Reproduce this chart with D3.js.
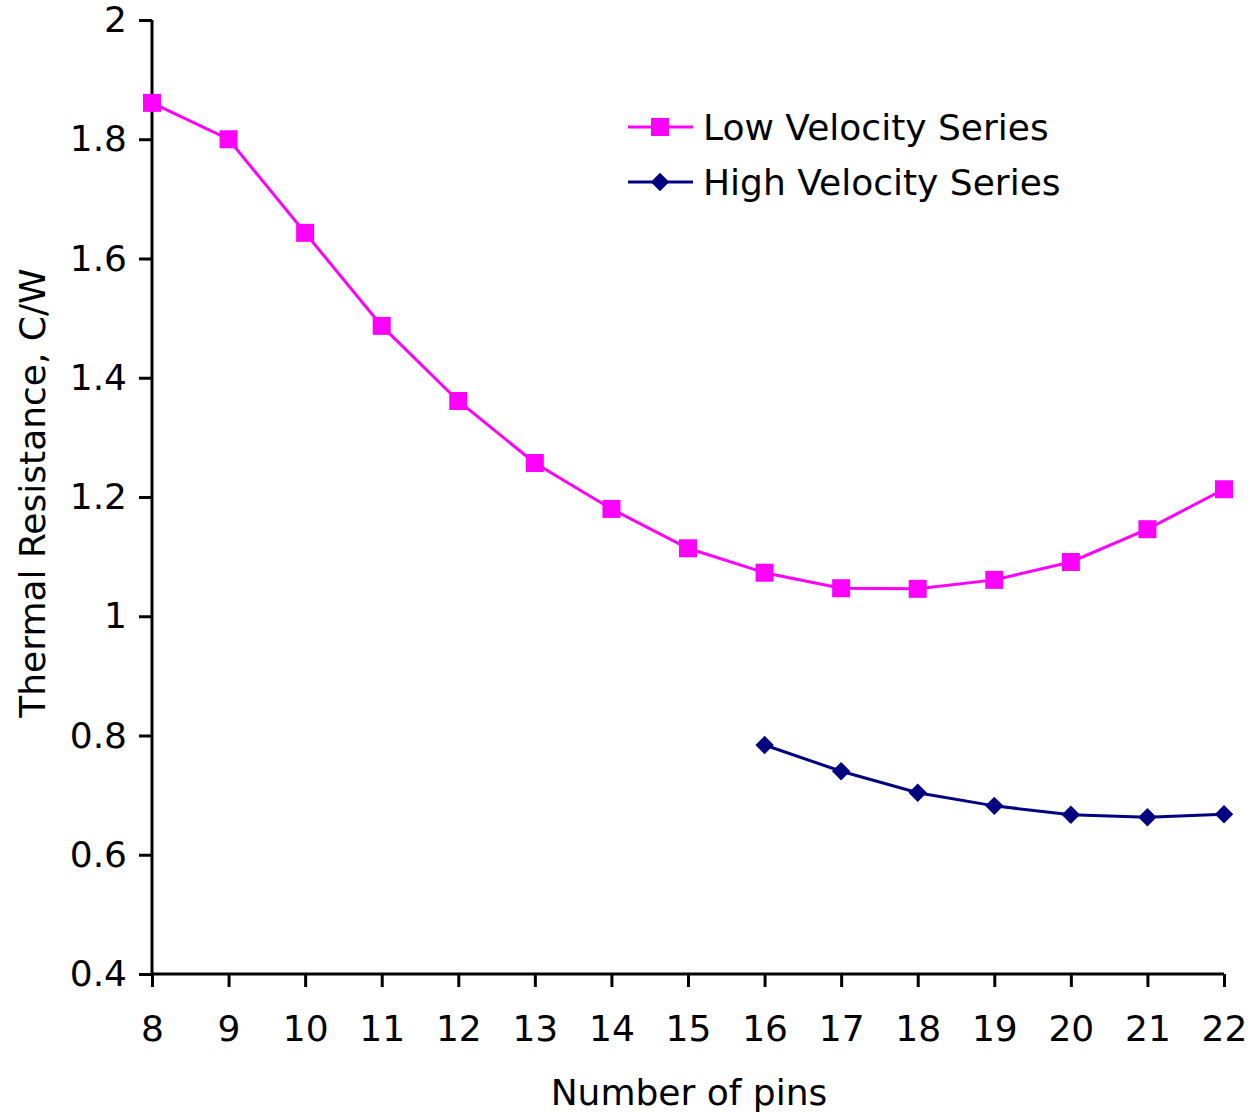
<!DOCTYPE html>
<html>
<head>
<meta charset="utf-8">
<script src="https://cdn.jsdelivr.net/npm/d3@7"></script>
<style>
  body { margin: 0; background: #fff; }
  text { font-family: "DejaVu Sans", Verdana, sans-serif; fill: #000; }
</style>
</head>
<body>
<div id="chart"></div>
<script>
var pins = [8, 9, 10, 11, 12, 13, 14, 15, 16, 17, 18, 19, 20, 21, 22];
var lowVelocity = [1.861, 1.80, 1.643, 1.487, 1.361, 1.257, 1.180, 1.114, 1.073, 1.047, 1.046, 1.061, 1.091, 1.146, 1.213];
var highPins = [16, 17, 18, 19, 20, 21, 22];
var highVelocity = [0.784, 0.740, 0.704, 0.682, 0.667, 0.663, 0.668];
var yTicks = [0.4, 0.6, 0.8, 1, 1.2, 1.4, 1.6, 1.8, 2];
var seriesNames = ["Low Velocity Series", "High Velocity Series"];

var width = 1258, height = 1115;
var margin = {top: 20, right: 34, bottom: 141, left: 152};
var fontSize = "36px";

var svg = d3.select("#chart").append("svg")
    .attr("width", width)
    .attr("height", height);

var x = d3.scaleLinear()
    .domain([8, 22])
    .range([margin.left, width - margin.right]);

var y = d3.scaleLinear()
    .domain([0.4, 2])
    .range([height - margin.bottom, margin.top]);

// axes
var xAxis = svg.append("g")
    .attr("transform", "translate(0," + y(0.4) + ")")
    .call(d3.axisBottom(x).tickValues(pins).tickSize(13).tickPadding(28).tickFormat(d3.format("d")));

var yAxis = svg.append("g")
    .attr("transform", "translate(" + x(8) + ",0)")
    .call(d3.axisLeft(y).tickValues(yTicks).tickSize(13).tickPadding(12).tickFormat(function(d) { return String(d); }));

[xAxis, yAxis].forEach(function(g) {
    g.select(".domain").attr("stroke", "#000").attr("stroke-width", 3);
    g.selectAll(".tick line").attr("stroke", "#000").attr("stroke-width", 3);
    g.selectAll(".tick text").style("font-size", fontSize).attr("fill", "#000");
});
yAxis.select(".domain").attr("d", "M0," + y(0.4) + "V" + y(2));
xAxis.select(".domain").attr("d", "M" + x(8) + ",0H" + x(22));

// axis titles
svg.append("text")
    .attr("x", 689)
    .attr("y", 1105)
    .attr("text-anchor", "middle")
    .style("font-size", fontSize)
    .text("Number of pins");

svg.append("text")
    .attr("transform", "translate(45," + 493 + ") rotate(-90)")
    .attr("text-anchor", "middle")
    .style("font-size", fontSize)
    .text("Thermal Resistance, C/W");

// lines
var lowData = pins.map(function(p, i) { return {x: p, y: lowVelocity[i]}; });
var highData = highPins.map(function(p, i) { return {x: p, y: highVelocity[i]}; });

var line = d3.line()
    .x(function(d) { return x(d.x); })
    .y(function(d) { return y(d.y); });

svg.append("path")
    .datum(lowData)
    .attr("fill", "none")
    .attr("stroke", "#ff00ff")
    .attr("stroke-width", 3)
    .attr("d", line);

svg.append("path")
    .datum(highData)
    .attr("fill", "none")
    .attr("stroke", "#000080")
    .attr("stroke-width", 3)
    .attr("d", line);

var square = d3.symbol().type(d3.symbolSquare).size(324);
var diamond = d3.symbol().type(d3.symbolSquare).size(170);

svg.selectAll(".low-pt")
    .data(lowData)
    .enter().append("path")
    .attr("class", "low-pt")
    .attr("transform", function(d) { return "translate(" + x(d.x) + "," + y(d.y) + ")"; })
    .attr("d", square)
    .attr("fill", "#ff00ff");

svg.selectAll(".high-pt")
    .data(highData)
    .enter().append("path")
    .attr("class", "high-pt")
    .attr("transform", function(d) { return "translate(" + x(d.x) + "," + y(d.y) + ") rotate(45)"; })
    .attr("d", diamond)
    .attr("fill", "#000080");

// legend
var legend = [
    {name: seriesNames[0], color: "#ff00ff", sym: square, rot: 0, yy: 127},
    {name: seriesNames[1], color: "#000080", sym: diamond, rot: 45, yy: 182}
];
legend.forEach(function(l) {
    svg.append("line")
        .attr("x1", 628).attr("x2", 693)
        .attr("y1", l.yy).attr("y2", l.yy)
        .attr("stroke", l.color).attr("stroke-width", 3);
    svg.append("path")
        .attr("transform", "translate(660," + l.yy + ") rotate(" + l.rot + ")")
        .attr("d", l.sym)
        .attr("fill", l.color);
    svg.append("text")
        .attr("x", 703)
        .attr("y", l.yy)
        .attr("dy", "0.36em")
        .style("font-size", fontSize)
        .text(l.name);
});
</script>
</body>
</html>
